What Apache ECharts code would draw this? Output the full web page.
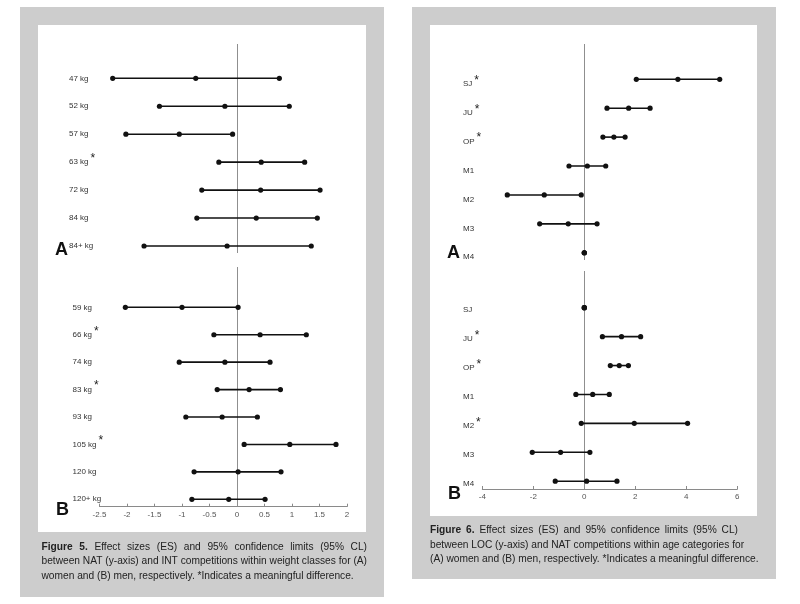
<!DOCTYPE html>
<html>
<head>
<meta charset="utf-8">
<script src="https://cdn.jsdelivr.net/npm/echarts@6/dist/echarts.min.js"></script>
<style>html,body{margin:0;padding:0;background:#fff}#c{width:800px;height:604px}</style>
</head>
<body>
<div id="c"></div>
<script>
// ---- Figure 5 (weight classes) ----
const weightsA = ['47 kg','52 kg','57 kg','63 kg','72 kg','84 kg','84+ kg'];
const sigWA = [0,0,0,1,0,0,0];
const loWA = [-2.26,-1.41,-2.02,-0.33,-0.64,-0.73,-1.69];
const esWA = [-0.75,-0.22,-1.05,0.44,0.43,0.35,-0.18];
const hiWA = [0.77,0.95,-0.08,1.23,1.51,1.46,1.35];

const weightsB = ['59 kg','66 kg','74 kg','83 kg','93 kg','105 kg','120 kg','120+ kg'];
const sigWB = [0,1,0,1,0,1,0,0];
const loWB = [-2.03,-0.42,-1.05,-0.36,-0.93,0.13,-0.78,-0.82];
const esWB = [-1.0,0.42,-0.22,0.22,-0.27,0.96,0.02,-0.15];
const hiWB = [0.02,1.26,0.6,0.79,0.37,1.8,0.8,0.51];

// ---- Figure 6 (age categories) ----
const ages = ['SJ','JU','OP','M1','M2','M3','M4'];
const sigAA = [1,1,1,0,0,0,0];
const loAA = [2.04,0.89,0.73,-0.6,-3.02,-1.75,0];
const esAA = [3.67,1.74,1.16,0.12,-1.57,-0.63,0];
const hiAA = [5.31,2.58,1.6,0.84,-0.12,0.5,0];

const sigAB = [0,1,1,0,1,0,0];
const loAB = [0,0.71,1.02,-0.33,-0.12,-2.04,-1.14];
const esAB = [0,1.46,1.37,0.33,1.96,-0.93,0.09];
const hiAB = [0,2.21,1.73,0.98,4.05,0.22,1.28];

const captionLeft = [
  'Figure 5. Effect sizes (ES) and 95% confidence limits (95% CL)',
  'between NAT (y-axis) and INT competitions within weight classes for (A)',
  'women and (B) men, respectively. *Indicates a meaningful difference.'
];
const captionRight = [
  'Figure 6. Effect sizes (ES) and 95% confidence limits (95% CL)',
  'between LOC (y-axis) and NAT competitions within age categories for',
  '(A) women and (B) men, respectively. *Indicates a meaningful difference.'
];

const FONT = "'Liberation Sans', Arial, sans-serif";
const CAP_SIZE = 10.2;

const panels = [
  {cats: weightsA, sig: sigWA, lo: loWA, es: esWA, hi: hiWA, grid:{left:99.5, width:247.5, top:44, height:209}, ymin:-1.227, ymax:6.25, xmin:-2.5, xmax:2, xint:0.5, showX:false, margin:30.5, lpad:0},
  {cats: weightsB, sig: sigWB, lo: loWB, es: esWB, hi: hiWB, grid:{left:99.5, width:247.5, top:267, height:239.7}, ymin:-1.47, ymax:7.27, xmin:-2.5, xmax:2, xint:0.5, showX:true, margin:27, lpad:0},
  {cats: ages, sig: sigAA, lo: loAA, es: esAA, hi: hiAA, grid:{left:482.3, width:255, top:44, height:216}, ymin:-1.22, ymax:6.25, xmin:-4, xmax:6, xint:2, showX:false, margin:19.3, lpad:9},
  {cats: ages, sig: sigAB, lo: loAB, es: esAB, hi: hiAB, grid:{left:482.3, width:255, top:271, height:218}, ymin:-1.27, ymax:6.27, xmin:-4, xmax:6, xint:2, showX:true, margin:19.3, lpad:5}
];

const grids = [], xAxes = [], yAxes = [], series = [];
panels.forEach((p, i) => {
  grids.push(Object.assign({containLabel:false}, p.grid));
  xAxes.push({
    gridIndex: i, type: 'value', min: p.xmin, max: p.xmax, interval: p.xint,
    show: p.showX,
    axisLine: {show: true, onZero: false, lineStyle: {color: '#8a8a8a', width: 1}},
    axisTick: {show: true, inside: true, length: 3, lineStyle: {color: '#8a8a8a'}},
    axisLabel: {fontSize: 8, color: '#555', margin: 4, fontFamily: FONT, showMinLabel: true, showMaxLabel: true},
    splitLine: {show: false}
  });
  yAxes.push({
    gridIndex: i, type: 'value', inverse: true, min: p.ymin, max: p.ymax,
    axisLine: {show: false}, axisTick: {show: false}, splitLine: {show: false},
    axisLabel: {
      customValues: p.cats.map((c, k) => k),
      align: 'left', margin: p.margin, padding: [p.lpad, 0, 0, 0],
      fontFamily: FONT,
      formatter: v => '{t|' + p.cats[v] + '}' + (p.sig[v] ? '{s|*}' : ''),
      rich: {
        t: {fontSize: 8, color: '#333', fontFamily: FONT},
        s: {fontSize: 12, color: '#222', fontFamily: FONT, padding: [0, 0, 7, 2]}
      }
    }
  });
  series.push({
    type: 'custom', xAxisIndex: i, yAxisIndex: i,
    data: p.cats.map((c, k) => [p.lo[k], p.es[k], p.hi[k], k]),
    encode: {x: [0, 1, 2], y: 3},
    renderItem: (params, api) => {
      const y = api.value(3);
      const a = api.coord([api.value(0), y]);
      const b = api.coord([api.value(1), y]);
      const c = api.coord([api.value(2), y]);
      const st = {fill: '#111'};
      return {type: 'group', children: [
        {type: 'line', shape: {x1: a[0], y1: a[1], x2: c[0], y2: c[1]}, style: {stroke: '#111', lineWidth: 1.6}},
        {type: 'circle', shape: {cx: a[0], cy: a[1], r: 2.6}, style: st},
        {type: 'circle', shape: {cx: b[0], cy: b[1], r: 2.6}, style: st},
        {type: 'circle', shape: {cx: c[0], cy: c[1], r: 2.6}, style: st}
      ]};
    },
    markLine: {
      silent: true, symbol: ['none', 'none'], label: {show: false}, animation: false,
      lineStyle: {color: '#8f8f8f', width: 1, type: 'solid'},
      data: [{xAxis: 0}]
    },
    z: 5
  });
});

// caption builder: first two lines spread to a common width (never compressed), last line natural
const mctx = document.createElement('canvas').getContext('2d');
function measure(t, bold) {
  mctx.font = (bold ? 'bold ' : '') + CAP_SIZE + 'px ' + FONT;
  return mctx.measureText(t).width;
}
function buildCaption(lines, target, prefix) {
  const rich = {
    b: {fontWeight: 'bold', fontSize: CAP_SIZE, fontFamily: FONT, fill: '#222', lineHeight: 14.6},
    r: {fontSize: CAP_SIZE, fontFamily: FONT, fill: '#222', lineHeight: 14.6}
  };
  const natural = measure(' ', false);
  const out = lines.map((line, li) => {
    const words = line.split(' ');
    const boldN = li === 0 ? 2 : 0;
    const key = prefix + li;
    let sum = 0;
    words.forEach((w, k) => { sum += measure(w, k < boldN); });
    let sw = natural;
    if (li < lines.length - 1) sw = Math.max(natural, (target - sum) / (words.length - 1));
    rich[key] = {fontSize: CAP_SIZE, fontFamily: FONT, width: sw, lineHeight: 14.6};
    return words.map((w, k) => '{' + (k < boldN ? 'b' : 'r') + '|' + w + '}').join('{' + key + '| }');
  });
  return {text: out.join('\n'), rich: rich};
}
const capL = buildCaption(captionLeft, 325.5, 'sl');
const capR = buildCaption(captionRight, 308, 'sr');

const graphic = [
  {type: 'rect', shape: {x: 20, y: 7, width: 364, height: 590}, style: {fill: '#cdcdcd'}, z: -10},
  {type: 'rect', shape: {x: 38, y: 25, width: 328, height: 507}, style: {fill: '#fff'}, z: -9},
  {type: 'rect', shape: {x: 412, y: 7, width: 364, height: 572}, style: {fill: '#cdcdcd'}, z: -10},
  {type: 'rect', shape: {x: 430, y: 25, width: 327, height: 491}, style: {fill: '#fff'}, z: -9},
  {type: 'text', left: 55, top: 241, style: {text: 'A', fontSize: 18, fontWeight: 'bold', fontFamily: FONT, fill: '#111'}},
  {type: 'text', left: 56, top: 501, style: {text: 'B', fontSize: 18, fontWeight: 'bold', fontFamily: FONT, fill: '#111'}},
  {type: 'text', left: 447, top: 244, style: {text: 'A', fontSize: 18, fontWeight: 'bold', fontFamily: FONT, fill: '#111'}},
  {type: 'text', left: 448, top: 485, style: {text: 'B', fontSize: 18, fontWeight: 'bold', fontFamily: FONT, fill: '#111'}},
  {type: 'text', left: 41.5, top: 539.5, style: {text: capL.text, rich: capL.rich, fontSize: CAP_SIZE, fontFamily: FONT, fill: '#222', lineHeight: 14.6}},
  {type: 'text', left: 430, top: 523, style: {text: capR.text, rich: capR.rich, fontSize: CAP_SIZE, fontFamily: FONT, fill: '#222', lineHeight: 14.6}}
];

const chart = echarts.init(document.getElementById('c'), null, {renderer: 'canvas'});
chart.setOption({
  animation: false,
  backgroundColor: '#ffffff',
  grid: grids, xAxis: xAxes, yAxis: yAxes, series: series, graphic: graphic
});
</script>
</body>
</html>
